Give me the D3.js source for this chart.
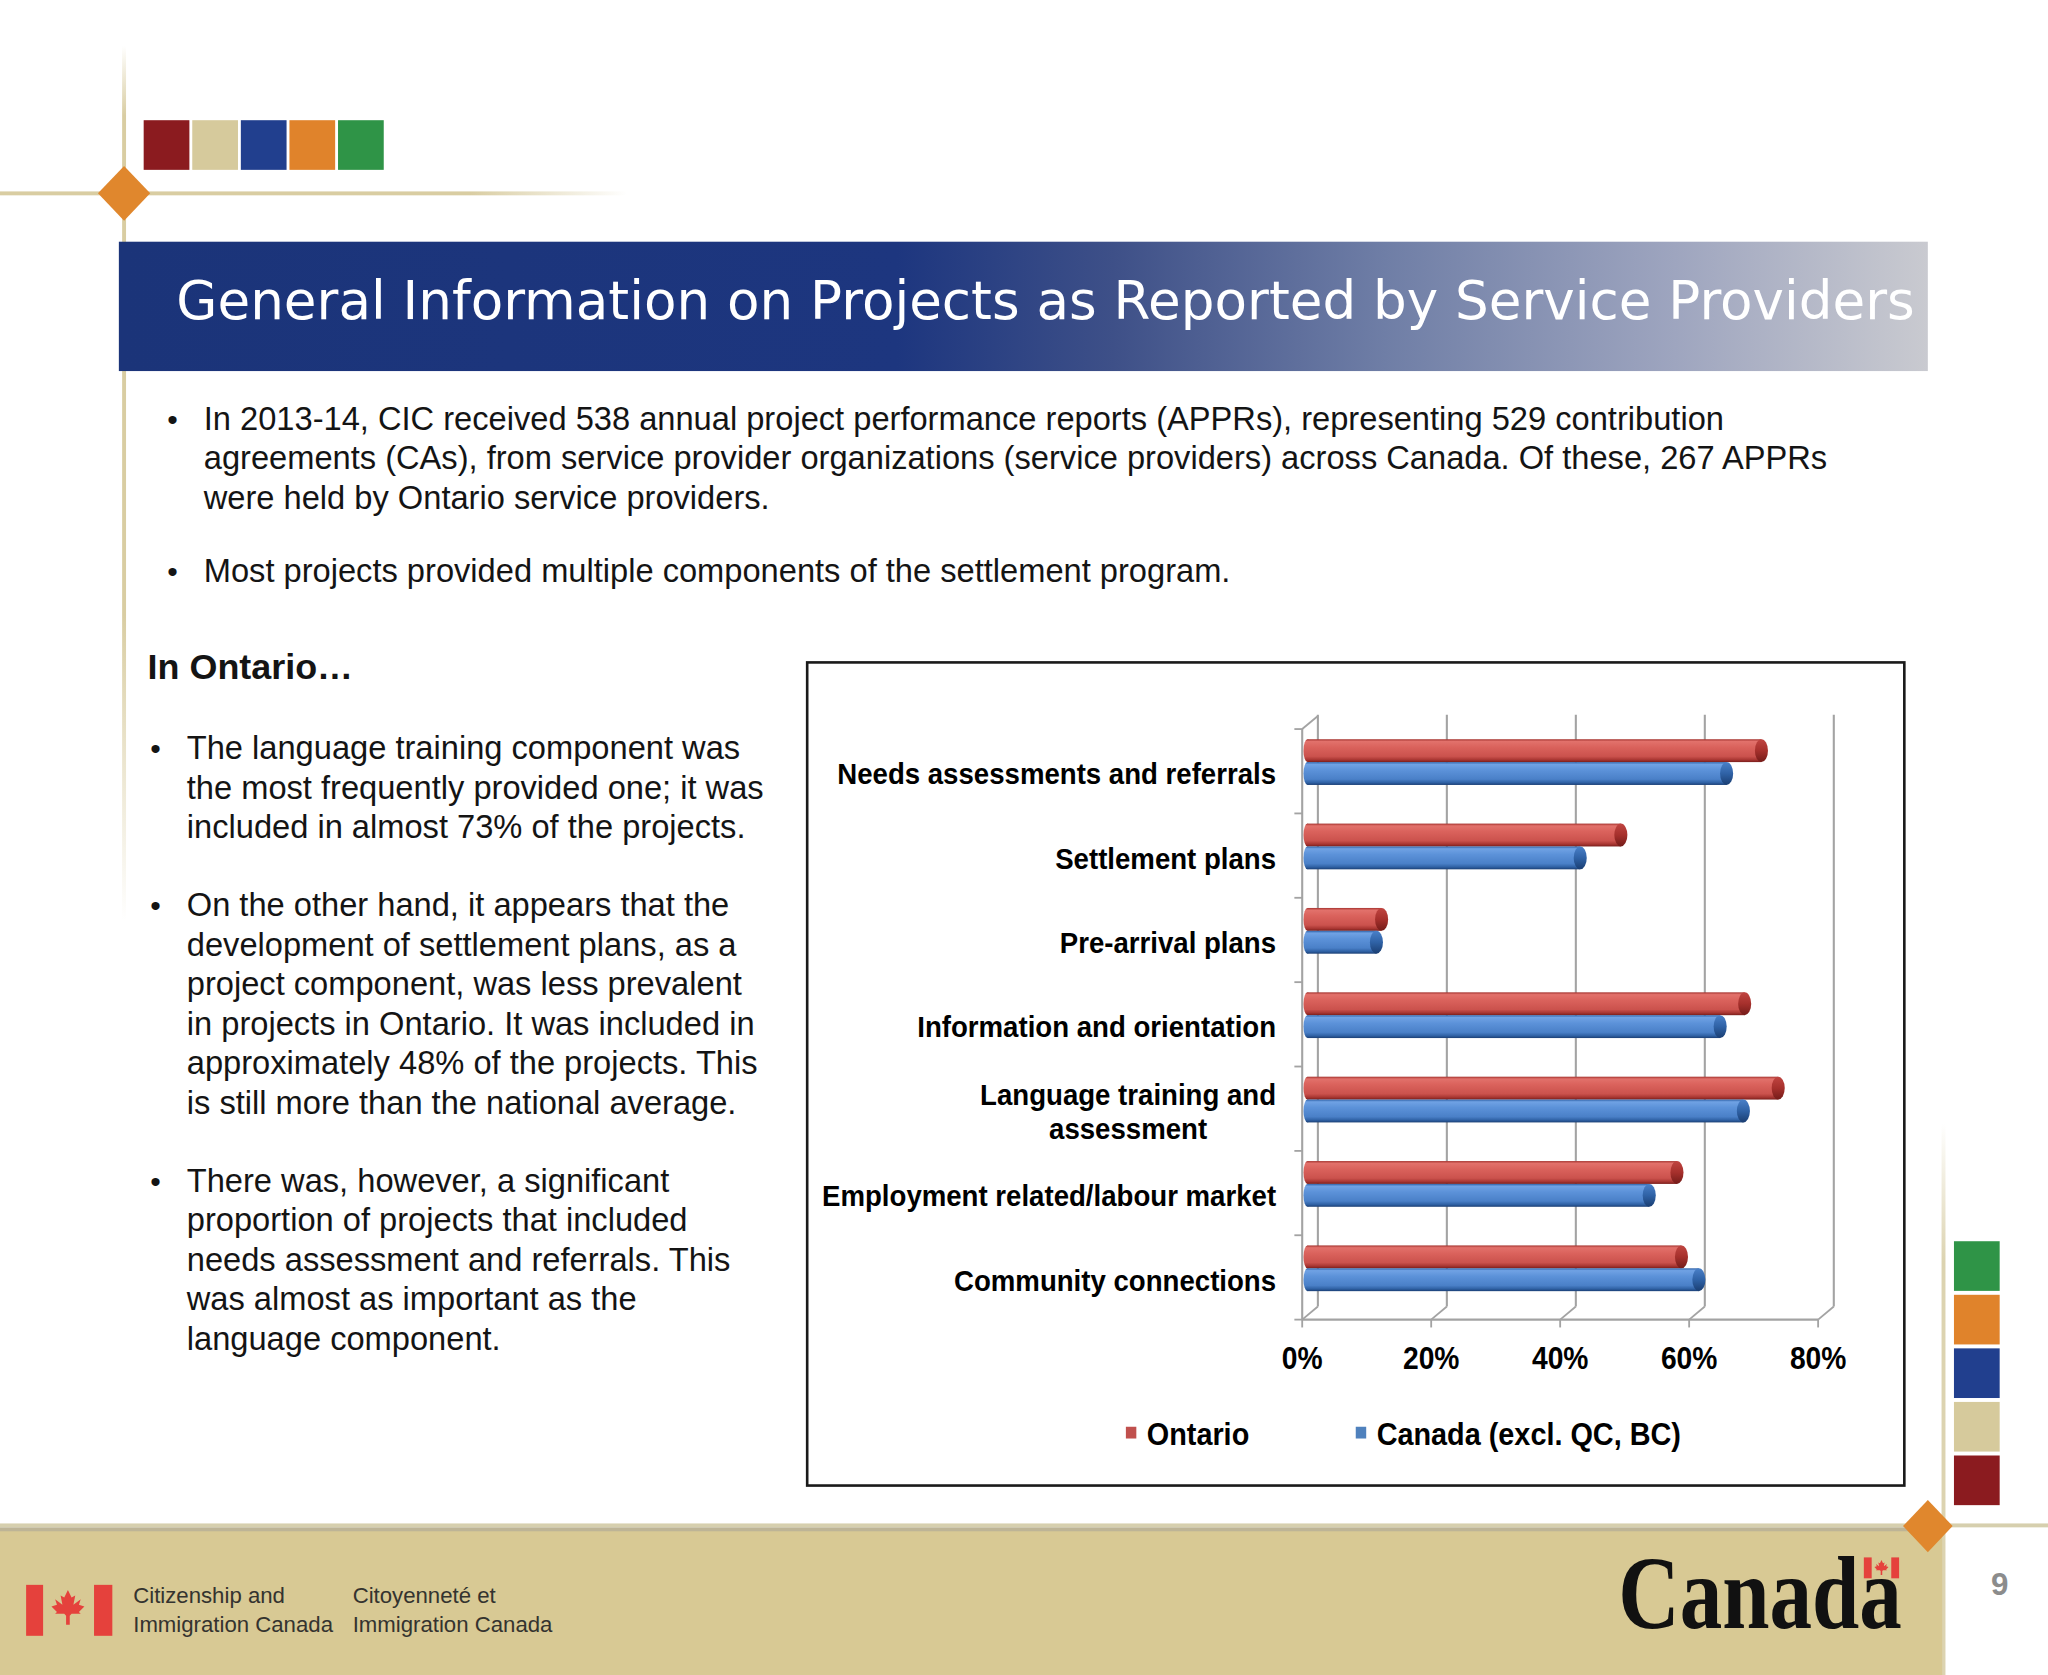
<!DOCTYPE html>
<html>
<head>
<meta charset="utf-8">
<script src="https://cdn.jsdelivr.net/npm/d3@7"></script>
<style>
html,body{margin:0;padding:0;background:#fff;overflow:hidden;}
svg{display:block;}
</style>
</head>
<body>
<script>
// ---------------- DATA ----------------
const categories = [
  "Needs assessments and referrals",
  "Settlement plans",
  "Pre-arrival plans",
  "Information and orientation",
  "Language training and\nassessment",
  "Employment related/labour market",
  "Community connections"
];
const seriesNames = ["Ontario", "Canada (excl. QC, BC)"];
const ontario = [70.4, 48.6, 11.5, 67.8, 73.0, 57.3, 58.0];
const canada  = [65.0, 42.3, 10.7, 64.0, 67.6, 53.0, 60.7];
const xTicks = [0, 20, 40, 60, 80];
const tickLabels = ["0%", "20%", "40%", "60%", "80%"];

const titleText = "General Information on Projects as Reported by Service Providers";
const topBullets = [
  ["In 2013-14, CIC received 538 annual project performance reports (APPRs), representing 529 contribution",
   "agreements (CAs), from service provider organizations (service providers) across Canada. Of these, 267 APPRs",
   "were held by Ontario service providers."],
  ["Most projects provided multiple components of the settlement program."]
];
const sideHeading = "In Ontario…";
const sideBullets = [
  ["The language training component was", "the most frequently provided one; it was", "included in almost 73% of the projects."],
  ["On the other hand, it appears that the", "development of settlement plans, as a", "project component, was less prevalent",
   "in projects in Ontario. It was included in", "approximately 48% of the projects.  This", "is still more than the national average."],
  ["There was, however, a significant", "proportion of projects that  included", "needs assessment and referrals.  This",
   "was almost as important as the", "language component."]
];
const paletteColors = ["#8b1b1f", "#d6ca9c", "#213f8e", "#e0832b", "#2f9447"];

// ---------------- SETUP ----------------
const W = 1568, H = 1282;
const svg = d3.select("body").append("svg")
  .attr("width", 2048).attr("height", 1675)
  .attr("viewBox", `0 0 ${W} ${H}`).attr("preserveAspectRatio", "none");
const defs = svg.append("defs");

function linGrad(id, x2, y2, stops) {
  const g = defs.append("linearGradient").attr("id", id)
    .attr("x1", 0).attr("y1", 0).attr("x2", x2).attr("y2", y2);
  stops.forEach(s => g.append("stop").attr("offset", s[0]).attr("stop-color", s[1]).attr("stop-opacity", s[2] == null ? 1 : s[2]));
}
linGrad("banner", 1, 0, [[0, "#1b3479"], [0.43, "#1d367f"], [0.55, "#3e5088"], [0.7, "#6f7ea6"], [0.86, "#9ea5bf"], [1, "#c9cad0"]]);
linGrad("vfade", 0, 1, [[0, "#d9cda2", 0], [0.08, "#d9cda2", 1], [0.65, "#d9cda2", 1], [1, "#d9cda2", 0]]);
linGrad("hfade", 1, 0, [[0, "#d9cda2", 1], [0.75, "#d9cda2", 1], [1, "#d9cda2", 0]]);
linGrad("vfade2", 0, 1, [[0, "#dcd3b0", 0], [0.25, "#dcd3b0", 1], [1, "#dcd3b0", 1]]);
linGrad("redBody", 0, 1, [[0, "#a5332f"], [0.1, "#e2716b"], [0.35, "#da625c"], [0.75, "#cb524d"], [0.9, "#a83632"], [1, "#7a1e1b"]]);
linGrad("blueBody", 0, 1, [[0, "#2f62a8"], [0.1, "#70a2e4"], [0.35, "#5c92d9"], [0.75, "#4a80c8"], [0.9, "#2f61a4"], [1, "#1b3f75"]]);
linGrad("redCap", 0, 1, [[0, "#c04541"], [0.5, "#a6302c"], [1, "#741c19"]]);
linGrad("blueCap", 0, 1, [[0, "#4a80c8"], [0.5, "#2f62a6"], [1, "#1a3e72"]]);

const chartFont = "'Liberation Sans', Arial, sans-serif";
// horizontal condensing factor so chart labels match the narrow bold face of the original
const probe = svg.append("text").attr("font-family", chartFont).attr("font-weight", "bold")
  .attr("font-size", 23).text("Needs assessments and referrals");
const NX = 336 / probe.node().getComputedTextLength();
probe.remove();

// ---------------- DECORATIONS ----------------
const deco = svg.append("g");
deco.append("rect").attr("x", 93.5).attr("y", 35).attr("width", 3).attr("height", 670).attr("fill", "url(#vfade)");
deco.append("rect").attr("x", 0).attr("y", 146.5).attr("width", 480).attr("height", 3).attr("fill", "url(#hfade)");
deco.append("path").attr("d", "M95,127 L115,148 L95,169 L75,148 Z").attr("fill", "#e0872d");
paletteColors.forEach((c, i) => {
  deco.append("rect").attr("x", 110 + i * 37.2).attr("y", 92).attr("width", 35).attr("height", 38).attr("fill", c);
});

// Footer
deco.append("rect").attr("x", 1486.5).attr("y", 860).attr("width", 3).attr("height", 422).attr("fill", "url(#vfade2)");
deco.append("rect").attr("x", 0).attr("y", 1171).attr("width", 1487).attr("height", 111).attr("fill", "#d8c994");
deco.append("rect").attr("x", 0).attr("y", 1166).attr("width", 1568).attr("height", 3).attr("fill", "#d6cfae");
deco.append("rect").attr("x", 0).attr("y", 1169).attr("width", 1487).attr("height", 3).attr("fill", "#bdb496");
deco.append("path").attr("d", "M1476,1148 L1495,1168 L1476,1188 L1457,1168 Z").attr("fill", "#e0872d");
paletteColors.slice().reverse().forEach((c, i) => {
  deco.append("rect").attr("x", 1496).attr("y", 950 + i * 41).attr("width", 35).attr("height", 38).attr("fill", c);
});
deco.append("text").attr("x", 1531).attr("y", 1221).attr("text-anchor", "middle")
  .attr("font-family", "'Liberation Sans', Arial, sans-serif").attr("font-weight", "bold")
  .attr("font-size", 24).attr("fill", "#8c8c8c").text("9");

const leaf = "M0,-10 L2,-6 L4,-7 L3,-2 L7,-5 L6,-2 L9,-1 L6,2 L7,3 L2,3 L1,4 L1,9 L-1,9 L-1,4 L-2,3 L-7,3 L-6,2 L-9,-1 L-6,-2 L-7,-5 L-3,-2 L-4,-7 L-2,-6 Z";
deco.append("rect").attr("x", 20).attr("y", 1213).attr("width", 13).attr("height", 39).attr("fill", "#e5413c");
deco.append("rect").attr("x", 72).attr("y", 1213).attr("width", 14).attr("height", 39).attr("fill", "#e5413c");
deco.append("path").attr("d", leaf).attr("transform", "translate(52,1231) scale(1.4)").attr("fill", "#e5413c");
const ft = [["Citizenship and", "Immigration Canada", 102], ["Citoyenneté et", "Immigration Canada", 270]];
ft.forEach(f => {
  [f[0], f[1]].forEach((s, j) => {
    deco.append("text").attr("x", f[2]).attr("y", 1227 + j * 22)
      .attr("font-family", "'Liberation Sans', Arial, sans-serif").attr("font-size", 17)
      .attr("fill", "#34332f").text(s);
  });
});
deco.append("text").attr("x", 1239).attr("y", 1246)
  .attr("font-family", "'Liberation Serif', 'Times New Roman', serif").attr("font-weight", "bold")
  .attr("font-size", 80).attr("textLength", 217).attr("lengthAdjust", "spacingAndGlyphs")
  .attr("fill", "#111").text("Canada");
deco.append("rect").attr("x", 1427).attr("y", 1192).attr("width", 6).attr("height", 16).attr("fill", "#e5413c");
deco.append("rect").attr("x", 1448).attr("y", 1192).attr("width", 6).attr("height", 16).attr("fill", "#e5413c");
deco.append("path").attr("d", leaf).attr("transform", "translate(1440.5,1200) scale(0.6)").attr("fill", "#e5413c");

// ---------------- TITLE + TEXT ----------------
svg.append("rect").attr("x", 91).attr("y", 185).attr("width", 1385).attr("height", 99).attr("fill", "url(#banner)");
svg.append("text").attr("x", 135).attr("y", 244)
  .attr("font-family", "'DejaVu Sans', Verdana, sans-serif").attr("font-size", 41)
  .attr("textLength", 1331).attr("lengthAdjust", "spacingAndGlyphs")
  .attr("fill", "#ffffff").text(titleText);

const body = svg.append("g").attr("font-family", "'Liberation Sans', Arial, sans-serif").attr("font-size", 25).attr("fill", "#141414");
let yy = 329;
topBullets.forEach(b => {
  body.append("text").attr("x", 128).attr("y", yy).attr("font-size", 23).text("•");
  b.forEach((ln, j) => body.append("text").attr("x", 156).attr("y", yy + j * 30.2).text(ln));
  yy += b.length * 30.2 + 25.5;
});
body.append("text").attr("x", 113).attr("y", 520).attr("font-weight", "bold").attr("font-size", 27.5).text(sideHeading);
yy = 581;
sideBullets.forEach(b => {
  body.append("text").attr("x", 115).attr("y", yy).attr("font-size", 23).text("•");
  b.forEach((ln, j) => body.append("text").attr("x", 143).attr("y", yy + j * 30.3).text(ln));
  yy += b.length * 30.3 + 29.2;
});

// ---------------- CHART ----------------
svg.append("rect").attr("x", 618).attr("y", 507).attr("width", 840).attr("height", 630)
  .attr("fill", "#fff").attr("stroke", "#1a1a1a").attr("stroke-width", 2);

const chart = svg.append("g");
const DX = 12, DY = -10;              // 3-D depth offset (back wall)
const yTop = 558, yBot = 1010;
const x = d3.scaleLinear().domain([0, 80]).range([997, 1392]);
const y = d3.scaleBand().domain(categories).range([yTop, yBot]);
const inner = d3.scaleBand().domain(seriesNames).range([-17.5, 17.5]);
const gridCol = "#a3a3a3";

chart.selectAll(".grid").data(xTicks).join("line")
  .attr("x1", d => x(d) + DX).attr("x2", d => x(d) + DX)
  .attr("y1", yTop + DY - 1).attr("y2", yBot + DY)
  .attr("stroke", gridCol).attr("stroke-width", 1.6);
chart.selectAll(".floord").data(xTicks).join("line")
  .attr("x1", d => x(d)).attr("x2", d => x(d) + DX)
  .attr("y1", yBot).attr("y2", yBot + DY)
  .attr("stroke", gridCol).attr("stroke-width", 1.4);
chart.append("line").attr("x1", x(0)).attr("x2", x(80)).attr("y1", yBot).attr("y2", yBot).attr("stroke", gridCol).attr("stroke-width", 1.6);
chart.selectAll(".xt").data(xTicks).join("line")
  .attr("x1", d => x(d)).attr("x2", d => x(d)).attr("y1", yBot).attr("y2", yBot + 6)
  .attr("stroke", gridCol).attr("stroke-width", 1.4);
chart.append("line").attr("x1", x(0)).attr("x2", x(0)).attr("y1", yTop).attr("y2", yBot).attr("stroke", gridCol).attr("stroke-width", 1.6);
chart.append("line").attr("x1", x(0)).attr("x2", x(0) + DX).attr("y1", yTop).attr("y2", yTop + DY).attr("stroke", gridCol).attr("stroke-width", 1.4);
const bounds = categories.map(c => y(c)).concat([yBot]);
chart.selectAll(".yt").data(bounds).join("line")
  .attr("x1", x(0) - 6).attr("x2", x(0)).attr("y1", d => d).attr("y2", d => d)
  .attr("stroke", gridCol).attr("stroke-width", 1.4);

// bars (3-D cylinders)
const BX = 4, BY = -7, CAP = 5;
const barData = [];
categories.forEach((c, i) => {
  barData.push({ cat: c, s: seriesNames[0], v: ontario[i], body: "redBody", cap: "redCap" });
  barData.push({ cat: c, s: seriesNames[1], v: canada[i], body: "blueBody", cap: "blueCap" });
});
const bh = inner.bandwidth();
const bars = chart.selectAll(".bar").data(barData).join("g")
  .attr("transform", d => `translate(0,${y(d.cat) + y.bandwidth() / 2 + BY + inner(d.s)})`);
bars.append("ellipse").attr("cx", x(0) + BX).attr("cy", bh / 2).attr("rx", CAP - 2).attr("ry", bh / 2)
  .attr("fill", d => `url(#${d.body})`);
bars.append("rect").attr("x", x(0) + BX).attr("y", 0)
  .attr("width", d => x(d.v) - x(0)).attr("height", bh)
  .attr("fill", d => `url(#${d.body})`);
bars.append("ellipse").attr("cx", d => x(d.v) + BX).attr("cy", bh / 2).attr("rx", CAP).attr("ry", bh / 2)
  .attr("fill", d => `url(#${d.cap})`);

function ctext(g, px, py, str, anchor, size) {
  return g.append("text").attr("transform", `translate(${px},${py}) scale(${NX},1)`)
    .attr("text-anchor", anchor).attr("font-family", chartFont).attr("font-weight", "bold")
    .attr("font-size", size || 23).attr("fill", "#000").text(str);
}
categories.forEach(c => {
  const lines = c.split("\n");
  const cy = y(c) + y.bandwidth() / 2 + 2;
  const lh = 26;
  if (lines.length === 1) {
    ctext(chart, 977, cy + 8, lines[0], "end");
  } else {
    const t0 = ctext(chart, 977, cy - lh / 2 + 8, lines[0], "end");
    const w0 = t0.node().getComputedTextLength() * NX;
    lines.slice(1).forEach((ln, k) => ctext(chart, 977 - w0 / 2, cy + lh / 2 + 8 + k * lh, ln, "middle"));
  }
});
xTicks.forEach((t, i) => ctext(chart, x(t), 1048, tickLabels[i], "middle", 23.5));

const legendColors = ["#c0504d", "#4f81bd"];
const legX = [862, 1038];
seriesNames.forEach((s, i) => {
  chart.append("rect").attr("x", legX[i]).attr("y", 1092).attr("width", 8).attr("height", 9).attr("fill", legendColors[i]);
  ctext(chart, legX[i] + 16, 1106, s, "start", 24);
});
</script>
</body>
</html>
